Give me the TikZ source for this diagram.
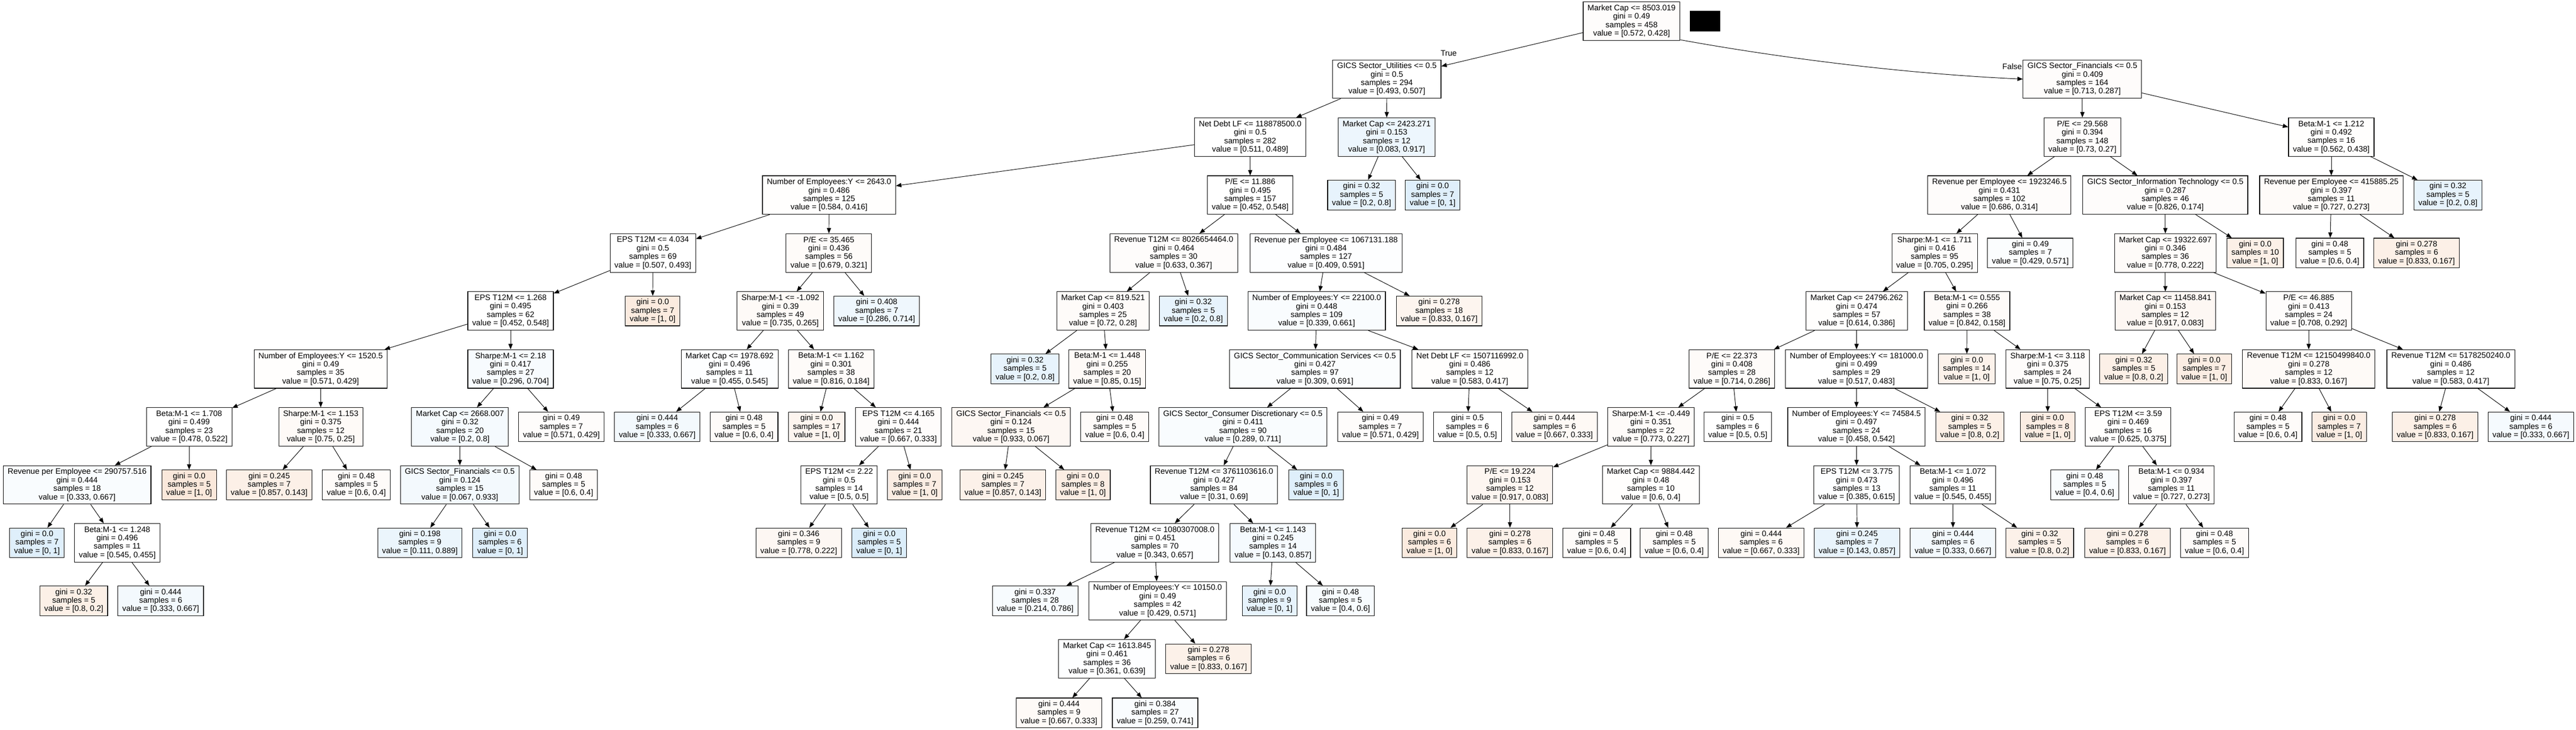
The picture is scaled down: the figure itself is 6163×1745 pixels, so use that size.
\documentclass[tikz,border=0pt]{standalone}
\usepackage{fontspec}
\setmainfont{Liberation Sans}
\usetikzlibrary{arrows.meta}
\definecolor{O}{HTML}{E58139}
\definecolor{B}{HTML}{399DE5}
\newcommand\mydec[4]{#1\\gini = #2\\samples = #3\\value = [#4]}
\newcommand\myleaf[3]{gini = #1\\samples = #2\\value = [#3]}
\begin{document}
\begin{tikzpicture}[x=0.5pt, y=-0.5pt,
 bx/.style={draw=black, line width=0.7pt, rectangle, align=center, inner xsep=5.25pt, inner ysep=0pt, font=\fontsize{9.52}{10.1}\selectfont},
 decnode/.style={bx, minimum height=46pt},
 leafnode/.style={bx, minimum height=35.5pt},
 edgeline/.style={line width=0.6pt, -{Triangle[length=6.5pt,width=5pt]}},
 lbl/.style={font=\fontsize{9.52}{10.1}\selectfont, inner sep=0pt}]
\fill[white] (0,0) rectangle (6163,1745);
\useasboundingbox (0,0) rectangle (6163,1745);
% L0
\node[decnode, fill=O!2] (nr) at (3903.5,50.5) {\mydec{Market Cap <= 8503.019}{0.49}{458}{0.572, 0.428}};
\node[fill=black, minimum width=36.5pt, minimum height=24.5pt, inner sep=0pt] (blk) at (4079.5,50.5) {};
% L1
\node[decnode, fill=white] (na) at (3318,189.1) {\mydec{GICS Sector\_Utilities <= 0.5}{0.5}{294}{0.493, 0.507}};
\node[decnode, fill=O!2] (nb) at (4982,189.1) {\mydec{GICS Sector\_Financials <= 0.5}{0.409}{164}{0.713, 0.287}};
% L2
\node[decnode, fill=white] (nc) at (2991,327.7) {\mydec{Net Debt LF <= 118878500.0}{0.5}{282}{0.511, 0.489}};
\node[decnode, fill=B!9] (nd) at (3317.5,327.7) {\mydec{Market Cap <= 2423.271}{0.153}{12}{0.083, 0.917}};
\node[decnode, fill=O!2] (nch) at (4982,327.7) {\mydec{P/E <= 29.568}{0.394}{148}{0.73, 0.27}};
\node[decnode, fill=O!1] (nci) at (5577.5,327.7) {\mydec{Beta:M-1 <= 1.212}{0.492}{16}{0.562, 0.438}};
% L3
\node[decnode, fill=O!1] (ne) at (1983.5,466.3) {\mydec{Number of Employees:Y <= 2643.0}{0.486}{125}{0.584, 0.416}};
\node[decnode, fill=white] (nf) at (2991,466.3) {\mydec{P/E <= 11.886}{0.495}{157}{0.452, 0.548}};
\node[leafnode, fill=B!12] (ng) at (3257.5,466.3) {\myleaf{0.32}{5}{0.2, 0.8}};
\node[leafnode, fill=B!16] (nh) at (3427.5,466.3) {\myleaf{0.0}{7}{0, 1}};
\node[decnode, fill=O!2] (ncj) at (4783.5,466.3) {\mydec{Revenue per Employee <= 1923246.5}{0.431}{102}{0.686, 0.314}};
\node[decnode, fill=O!2] (nck) at (5180.5,466.3) {\mydec{GICS Sector\_Information Technology <= 0.5}{0.287}{46}{0.826, 0.174}};
\node[decnode, fill=O!3] (ncl) at (5577.5,466.3) {\mydec{Revenue per Employee <= 415885.25}{0.397}{11}{0.727, 0.273}};
\node[leafnode, fill=B!12] (ncm) at (5856.5,466.3) {\myleaf{0.32}{5}{0.2, 0.8}};
% L4
\node[decnode, fill=white] (ni) at (1562,604.9) {\mydec{EPS T12M <= 4.034}{0.5}{69}{0.507, 0.493}};
\node[decnode, fill=O!3] (nj) at (1983,604.9) {\mydec{P/E <= 35.465}{0.436}{56}{0.679, 0.321}};
\node[decnode, fill=O!2] (nk) at (2808,604.9) {\mydec{Revenue T12M <= 8026654464.0}{0.464}{30}{0.633, 0.367}};
\node[decnode, fill=B!1] (nl) at (3172.5,604.9) {\mydec{Revenue per Employee <= 1067131.188}{0.484}{127}{0.409, 0.591}};
\node[decnode, fill=O!2] (ncn) at (4628.5,604.9) {\mydec{Sharpe:M-1 <= 1.711}{0.416}{95}{0.705, 0.295}};
\node[leafnode, fill=B!2] (nco) at (4857.5,604.9) {\myleaf{0.49}{7}{0.429, 0.571}};
\node[decnode, fill=O!3] (ncp) at (5180.5,604.9) {\mydec{Market Cap <= 19322.697}{0.346}{36}{0.778, 0.222}};
\node[leafnode, fill=O!12] (ncq) at (5395.5,604.9) {\myleaf{0.0}{10}{1, 0}};
\node[leafnode, fill=O!3] (ncr) at (5574,604.9) {\myleaf{0.48}{5}{0.6, 0.4}};
\node[leafnode, fill=O!12] (ncs) at (5781.5,604.9) {\myleaf{0.278}{6}{0.833, 0.167}};
% L5
\node[decnode, fill=white] (nm) at (1221.5,743.5) {\mydec{EPS T12M <= 1.268}{0.495}{62}{0.452, 0.548}};
\node[leafnode, fill=O!16] (nn) at (1561.5,743.5) {\myleaf{0.0}{7}{1, 0}};
\node[decnode, fill=O!4] (no) at (1867,743.5) {\mydec{Sharpe:M-1 <= -1.092}{0.39}{49}{0.735, 0.265}};
\node[leafnode, fill=B!8] (np) at (2097.5,743.5) {\myleaf{0.408}{7}{0.286, 0.714}};
\node[decnode, fill=O!3] (nq) at (2639,743.5) {\mydec{Market Cap <= 819.521}{0.403}{25}{0.72, 0.28}};
\node[leafnode, fill=B!12] (ns) at (2855,743.5) {\myleaf{0.32}{5}{0.2, 0.8}};
\node[decnode, fill=B!3] (nt) at (3150,743.5) {\mydec{Number of Employees:Y <= 22100.0}{0.448}{109}{0.339, 0.661}};
\node[leafnode, fill=O!8] (nu) at (3443,743.5) {\myleaf{0.278}{18}{0.833, 0.167}};
\node[decnode, fill=O!1] (nct) at (4442,743.5) {\mydec{Market Cap <= 24796.262}{0.474}{57}{0.614, 0.386}};
\node[decnode, fill=O!3] (ncu) at (4706,743.5) {\mydec{Beta:M-1 <= 0.555}{0.266}{38}{0.842, 0.158}};
\node[decnode, fill=O!6] (ncv) at (5180.5,743.5) {\mydec{Market Cap <= 11458.841}{0.153}{12}{0.917, 0.083}};
\node[decnode, fill=O!2] (ncw) at (5523.5,743.5) {\mydec{P/E <= 46.885}{0.413}{24}{0.708, 0.292}};
% L6
\node[decnode, fill=O!1] (nv) at (767,882.1) {\mydec{Number of Employees:Y <= 1520.5}{0.49}{35}{0.571, 0.429}};
\node[decnode, fill=B!4] (nw) at (1221.5,882.1) {\mydec{Sharpe:M-1 <= 2.18}{0.417}{27}{0.296, 0.704}};
\node[decnode, fill=B!1] (nx) at (1745.5,882.1) {\mydec{Market Cap <= 1978.692}{0.496}{11}{0.455, 0.545}};
\node[decnode, fill=O!3] (ny) at (1988.5,882.1) {\mydec{Beta:M-1 <= 1.162}{0.301}{38}{0.816, 0.184}};
\node[leafnode, fill=B!12] (nz) at (2452.5,882.1) {\myleaf{0.32}{5}{0.2, 0.8}};
\node[decnode, fill=O!4] (naa) at (2649,882.1) {\mydec{Beta:M-1 <= 1.448}{0.255}{20}{0.85, 0.15}};
\node[decnode, fill=B!2] (nab) at (3146,882.1) {\mydec{GICS Sector\_Communication Services <= 0.5}{0.427}{97}{0.309, 0.691}};
\node[decnode, fill=O!1] (nac) at (3516.5,882.1) {\mydec{Net Debt LF <= 1507116992.0}{0.486}{12}{0.583, 0.417}};
\node[decnode, fill=O!3] (ncx) at (4143.5,882.1) {\mydec{P/E <= 22.373}{0.408}{28}{0.714, 0.286}};
\node[decnode, fill=white] (ncy) at (4441.5,882.1) {\mydec{Number of Employees:Y <= 181000.0}{0.499}{29}{0.517, 0.483}};
\node[leafnode, fill=O!10] (ncz) at (4705.5,882.1) {\myleaf{0.0}{14}{1, 0}};
\node[decnode, fill=O!2] (nda) at (4899,882.1) {\mydec{Sharpe:M-1 <= 3.118}{0.375}{24}{0.75, 0.25}};
\node[leafnode, fill=O!12] (ndb) at (5105,882.1) {\myleaf{0.32}{5}{0.8, 0.2}};
\node[leafnode, fill=O!14] (ndc) at (5273.5,882.1) {\myleaf{0.0}{7}{1, 0}};
\node[decnode, fill=O!4] (ndd) at (5523.5,882.1) {\mydec{Revenue T12M <= 12150499840.0}{0.278}{12}{0.833, 0.167}};
\node[decnode, fill=white] (nde) at (5863.5,882.1) {\mydec{Revenue T12M <= 5178250240.0}{0.486}{12}{0.583, 0.417}};
% L7
\node[decnode, fill=white] (nad) at (452.5,1020.7) {\mydec{Beta:M-1 <= 1.708}{0.499}{23}{0.478, 0.522}};
\node[decnode, fill=O!4] (nae) at (767.5,1020.7) {\mydec{Sharpe:M-1 <= 1.153}{0.375}{12}{0.75, 0.25}};
\node[decnode, fill=B!5] (naf) at (1100.5,1020.7) {\mydec{Market Cap <= 2668.007}{0.32}{20}{0.2, 0.8}};
\node[leafnode, fill=O!2] (nag) at (1343,1020.7) {\myleaf{0.49}{7}{0.571, 0.429}};
\node[leafnode, fill=B!6] (nah) at (1572.5,1020.7) {\myleaf{0.444}{6}{0.333, 0.667}};
\node[leafnode, fill=O!3] (nai) at (1780,1020.7) {\myleaf{0.48}{5}{0.6, 0.4}};
\node[leafnode, fill=O!8] (naj) at (1954,1020.7) {\myleaf{0.0}{17}{1, 0}};
\node[decnode, fill=O!2] (nak) at (2149.5,1020.7) {\mydec{EPS T12M <= 4.165}{0.444}{21}{0.667, 0.333}};
\node[decnode, fill=O!6] (nal) at (2419,1020.7) {\mydec{GICS Sector\_Financials <= 0.5}{0.124}{15}{0.933, 0.067}};
\node[leafnode, fill=O!3] (nam) at (2667,1020.7) {\myleaf{0.48}{5}{0.6, 0.4}};
\node[decnode, fill=B!3] (nan) at (2973.5,1020.7) {\mydec{GICS Sector\_Consumer Discretionary <= 0.5}{0.411}{90}{0.289, 0.711}};
\node[leafnode, fill=O!2] (nao) at (3302.5,1020.7) {\myleaf{0.49}{7}{0.571, 0.429}};
\node[leafnode, fill=white] (nap) at (3511,1020.7) {\myleaf{0.5}{6}{0.5, 0.5}};
\node[leafnode, fill=O!5] (naq) at (3719,1020.7) {\myleaf{0.444}{6}{0.667, 0.333}};
\node[decnode, fill=O!3] (ndf) at (3950,1020.7) {\mydec{Sharpe:M-1 <= -0.449}{0.351}{22}{0.773, 0.227}};
\node[leafnode, fill=white] (ndg) at (4157.5,1020.7) {\myleaf{0.5}{6}{0.5, 0.5}};
\node[decnode, fill=white] (ndh) at (4441.5,1020.7) {\mydec{Number of Employees:Y <= 74584.5}{0.497}{24}{0.458, 0.542}};
\node[leafnode, fill=O!12] (ndi) at (4712.5,1020.7) {\myleaf{0.32}{5}{0.8, 0.2}};
\node[leafnode, fill=O!14] (ndj) at (4899,1020.7) {\myleaf{0.0}{8}{1, 0}};
\node[decnode, fill=O!1] (ndk) at (5091.5,1020.7) {\mydec{EPS T12M <= 3.59}{0.469}{16}{0.625, 0.375}};
\node[leafnode, fill=O!3] (ndl) at (5426,1020.7) {\myleaf{0.48}{5}{0.6, 0.4}};
\node[leafnode, fill=O!14] (ndm) at (5596.5,1020.7) {\myleaf{0.0}{7}{1, 0}};
\node[leafnode, fill=O!12] (ndn) at (5826,1020.7) {\myleaf{0.278}{6}{0.833, 0.167}};
\node[leafnode, fill=B!5] (ndo) at (6055,1020.7) {\myleaf{0.444}{6}{0.333, 0.667}};
% L8
\node[decnode, fill=B!3] (nar) at (184.5,1159.3) {\mydec{Revenue per Employee <= 290757.516}{0.444}{18}{0.333, 0.667}};
\node[leafnode, fill=O!18] (nas) at (452.5,1159.3) {\myleaf{0.0}{5}{1, 0}};
\node[leafnode, fill=O!12] (nat) at (644,1159.3) {\myleaf{0.245}{7}{0.857, 0.143}};
\node[leafnode, fill=O!3] (nau) at (852.5,1159.3) {\myleaf{0.48}{5}{0.6, 0.4}};
\node[decnode, fill=B!6] (nav) at (1100,1159.3) {\mydec{GICS Sector\_Financials <= 0.5}{0.124}{15}{0.067, 0.933}};
\node[leafnode, fill=O!3] (naw) at (1348.5,1159.3) {\myleaf{0.48}{5}{0.6, 0.4}};
\node[decnode, fill=white] (nax) at (2007.5,1159.3) {\mydec{EPS T12M <= 2.22}{0.5}{14}{0.5, 0.5}};
\node[leafnode, fill=O!14] (nay) at (2188.5,1159.3) {\myleaf{0.0}{7}{1, 0}};
\node[leafnode, fill=O!11] (naz) at (2399.5,1159.3) {\myleaf{0.245}{7}{0.857, 0.143}};
\node[leafnode, fill=O!14] (nba) at (2591,1159.3) {\myleaf{0.0}{8}{1, 0}};
\node[decnode, fill=B!2] (nbb) at (2904.5,1159.3) {\mydec{Revenue T12M <= 3761103616.0}{0.427}{84}{0.31, 0.69}};
\node[leafnode, fill=B!16] (nbc) at (3149,1159.3) {\myleaf{0.0}{6}{0, 1}};
\node[decnode, fill=O!7] (nbd) at (3612.5,1159.3) {\mydec{P/E <= 19.224}{0.153}{12}{0.917, 0.083}};
\node[decnode, fill=O!1] (nbe) at (3949.5,1159.3) {\mydec{Market Cap <= 9884.442}{0.48}{10}{0.6, 0.4}};
\node[decnode, fill=B!1] (ndp) at (4442,1159.3) {\mydec{EPS T12M <= 3.775}{0.473}{13}{0.385, 0.615}};
\node[decnode, fill=white] (ndq) at (4672,1159.3) {\mydec{Beta:M-1 <= 1.072}{0.496}{11}{0.545, 0.455}};
\node[leafnode, fill=B!3] (ndr) at (4987.5,1159.3) {\myleaf{0.48}{5}{0.4, 0.6}};
\node[decnode, fill=O!2] (nds) at (5195,1159.3) {\mydec{Beta:M-1 <= 0.934}{0.397}{11}{0.727, 0.273}};
% L9
\node[leafnode, fill=B!16] (nbf) at (88.5,1297.9) {\myleaf{0.0}{7}{0, 1}};
\node[decnode, fill=white] (nbg) at (280.5,1297.9) {\mydec{Beta:M-1 <= 1.248}{0.496}{11}{0.545, 0.455}};
\node[leafnode, fill=B!10] (nbh) at (1004.5,1297.9) {\myleaf{0.198}{9}{0.111, 0.889}};
\node[leafnode, fill=B!16] (nbi) at (1196.5,1297.9) {\myleaf{0.0}{6}{0, 1}};
\node[leafnode, fill=O!6] (nbj) at (1911,1297.9) {\myleaf{0.346}{9}{0.778, 0.222}};
\node[leafnode, fill=B!18] (nbk) at (2103.5,1297.9) {\myleaf{0.0}{5}{0, 1}};
\node[decnode, fill=B!1] (nbl) at (2763,1297.9) {\mydec{Revenue T12M <= 1080307008.0}{0.451}{70}{0.343, 0.657}};
\node[decnode, fill=B!5] (nbm) at (3045.5,1297.9) {\mydec{Beta:M-1 <= 1.143}{0.245}{14}{0.143, 0.857}};
\node[leafnode, fill=O!16] (nbn) at (3420,1297.9) {\myleaf{0.0}{6}{1, 0}};
\node[leafnode, fill=O!11] (nbo) at (3612.5,1297.9) {\myleaf{0.278}{6}{0.833, 0.167}};
\node[leafnode, fill=O!3] (nbp) at (3820,1297.9) {\myleaf{0.48}{5}{0.6, 0.4}};
\node[leafnode, fill=O!3] (nbq) at (4005.5,1297.9) {\myleaf{0.48}{5}{0.6, 0.4}};
\node[leafnode, fill=O!5] (nbr) at (4213.5,1297.9) {\myleaf{0.444}{6}{0.667, 0.333}};
\node[leafnode, fill=B!11] (nbs) at (4443,1297.9) {\myleaf{0.245}{7}{0.143, 0.857}};
\node[leafnode, fill=B!6] (nbt) at (4672.5,1297.9) {\myleaf{0.444}{6}{0.333, 0.667}};
\node[leafnode, fill=O!11] (nbu) at (4880,1297.9) {\myleaf{0.32}{5}{0.8, 0.2}};
\node[leafnode, fill=O!11] (nbv) at (5090,1297.9) {\myleaf{0.278}{6}{0.833, 0.167}};
\node[leafnode, fill=O!3] (nbw) at (5298,1297.9) {\myleaf{0.48}{5}{0.6, 0.4}};
% L10
\node[leafnode, fill=O!12] (nbx) at (176.5,1436.5) {\myleaf{0.32}{5}{0.8, 0.2}};
\node[leafnode, fill=B!6] (nby) at (384.5,1436.5) {\myleaf{0.444}{6}{0.333, 0.667}};
\node[leafnode, fill=B!4] (nbz) at (2476.5,1436.5) {\myleaf{0.337}{28}{0.214, 0.786}};
\node[decnode, fill=white] (nca) at (2769.5,1436.5) {\mydec{Number of Employees:Y <= 10150.0}{0.49}{42}{0.429, 0.571}};
\node[leafnode, fill=B!12] (ncb) at (3037.5,1436.5) {\myleaf{0.0}{9}{0, 1}};
\node[leafnode, fill=B!4] (ncc) at (3207,1436.5) {\myleaf{0.48}{5}{0.4, 0.6}};
% L11
\node[decnode, fill=B!1] (ncd) at (2648.5,1575.1) {\mydec{Market Cap <= 1613.845}{0.461}{36}{0.361, 0.639}};
\node[leafnode, fill=O!11] (nce) at (2891.5,1575.1) {\myleaf{0.278}{6}{0.833, 0.167}};
% L12
\node[leafnode, fill=O!4] (ncf) at (2533.5,1704.5) {\myleaf{0.444}{9}{0.667, 0.333}};
\node[leafnode, fill=B!3] (ncg) at (2763.5,1704.5) {\myleaf{0.384}{27}{0.259, 0.741}};
% edges
\foreach \p/\c in {nr/na, na/nc, na/nd, nc/ne, nc/nf, nd/ng, nd/nh, ne/ni, ne/nj, nf/nk, nf/nl, ni/nm, ni/nn, nj/no, nj/np, nk/nq, nk/ns, nl/nt, nl/nu, nm/nv, nm/nw, no/nx, no/ny, nq/nz, nq/naa, nt/nab, nt/nac, nv/nad, nv/nae, nw/naf, nw/nag, nx/nah, nx/nai, ny/naj, ny/nak, naa/nal, naa/nam, nab/nan, nab/nao, nac/nap, nac/naq, nad/nar, nad/nas, nae/nat, nae/nau, naf/nav, naf/naw, nak/nax, nak/nay, nal/naz, nal/nba, nan/nbb, nan/nbc, ndf/nbd, ndf/nbe, nar/nbf, nar/nbg, nav/nbh, nav/nbi, nax/nbj, nax/nbk, nbb/nbl, nbb/nbm, nbd/nbn, nbd/nbo, nbe/nbp, nbe/nbq, ndp/nbr, ndp/nbs, ndq/nbt, ndq/nbu, nds/nbv, nds/nbw, nbg/nbx, nbg/nby, nbl/nbz, nbl/nca, nbm/ncb, nbm/ncc, nca/ncd, nca/nce, ncd/ncf, ncd/ncg, nb/nch, nb/nci, nch/ncj, nch/nck, nci/ncl, nci/ncm, ncj/ncn, ncj/nco, nck/ncp, nck/ncq, ncl/ncr, ncl/ncs, ncn/nct, ncn/ncu, ncp/ncv, ncp/ncw, nct/ncx, nct/ncy, ncu/ncz, ncu/nda, ncv/ndb, ncv/ndc, ncw/ndd, ncw/nde, ncx/ndf, ncx/ndg, ncy/ndh, ncy/ndi, nda/ndj, nda/ndk, ndd/ndl, ndd/ndm, nde/ndn, nde/ndo, ndh/ndp, ndh/ndq, ndk/ndr, ndk/nds}
  \draw[edgeline] (\p) -- (\c);
\draw[edgeline] ([yshift=1pt]nr.south east) .. controls (4250,137) and (4550,176) .. (nb.west);
\node[lbl] (ltrue) at (3466,127) {True};
\node[lbl] (lfalse) at (4814,159) {False};
\end{tikzpicture}
\end{document}
